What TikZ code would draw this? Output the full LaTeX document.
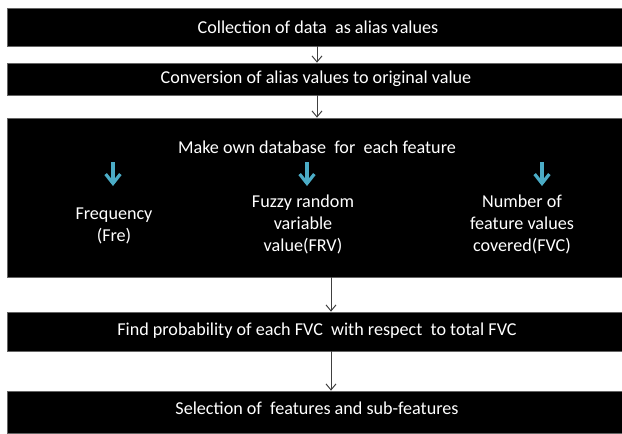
\documentclass[tikz,border=0pt]{standalone}
\usepackage{fontspec}
\setmainfont{Carlito}
\usetikzlibrary{arrows.meta}

\tikzset{every picture/.style={line width=0.75pt}}
\tikzset{
  stagebox/.style={draw={rgb,255:red,100;green,100;blue,100},line width=0.5pt,fill=black,inner sep=0pt,minimum width=461.25pt},
  stagetext/.style={text=white,inner sep=0pt,align=center,font=\fontsize{13.6pt}{16.5pt}\selectfont},
  flow/.style={draw={rgb,255:red,64;green,64;blue,64},line width=0.75pt,-{Straight Barb[length=4.5pt,width=7.5pt]}},
  subflow/.style={draw={rgb,255:red,75;green,172;blue,198},line width=2.4pt,-{Straight Barb[length=7pt,width=11pt]}}
}

\begin{document}
\begin{tikzpicture}[x=0.75pt,y=0.75pt,yscale=-1,xscale=1]
\useasboundingbox (0,0) rectangle (622,433);

%Shape: Rectangle [id:b1]
\node [stagebox,minimum height=28.5pt] (b1) at (314.5,27) {};
%Shape: Rectangle [id:b2]
\node [stagebox,minimum height=24pt] (b2) at (314.5,79) {};
%Shape: Rectangle [id:b3]
\node [stagebox,minimum height=119.25pt] (b3) at (314.5,197.5) {};
%Shape: Rectangle [id:b4]
\node [stagebox,minimum height=29.25pt] (b4) at (314.5,331.5) {};
%Shape: Rectangle [id:b5]
\node [stagebox,minimum height=31.5pt] (b5) at (314.5,412) {};

%Straight Lines [id:flowup]
\coordinate (up) at (317,0);
\coordinate (low) at (331,0);
\draw [flow] (b1.south -| up) -- (b2.north -| up);
\draw [flow] (b2.south -| up) -- (b3.north -| up);
%Straight Lines [id:flowlow]
\draw [flow] (b3.south -| low) -- (b4.north -| low);
\draw [flow] (b4.south -| low) -- (b5.north -| low);

%Straight Lines [id:subarrows]
\coordinate (freA) at (113,162);
\coordinate (freB) at (113,186);
\coordinate (frvA) at (307,162);
\coordinate (frvB) at (307,186);
\coordinate (fvcA) at (542,162);
\coordinate (fvcB) at (542,186);
\draw [subflow] (freA) -- (freB);
\draw [subflow] (frvA) -- (frvB);
\draw [subflow] (fvcA) -- (fvcB);

% Text Node
\node [stagetext] (t1) at (318,27) {Collection of data\ \ as alias values};
% Text Node
\node [stagetext] (t2) at (316,79) {Conversion of alias values to original value};
% Text Node
\node [stagetext] (t3) at (317,147) {Make own database\ \ for\ \ each feature};
% Text Node
\node [stagetext] (fre) at (114,225.5) {Frequency\\(Fre)};
% Text Node
\node [stagetext] (frv) at (303,224) {Fuzzy random\\variable\\value(FRV)};
% Text Node
\node [stagetext] (fvc) at (522,224) {Number of\\feature values\\covered(FVC)};
% Text Node
\node [stagetext] (t4) at (317,331) {Find probability of each FVC\ \ with respect\ \ to total FVC};
% Text Node
\node [stagetext] (t5) at (317,408) {Selection of\ \ features and sub-features};

\end{tikzpicture}
\end{document}
